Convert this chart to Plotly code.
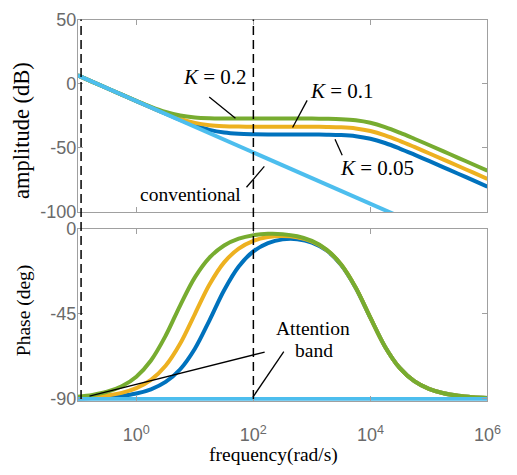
import plotly.graph_objects as go

# ---------------- data ----------------
log_freq = [-1, -0.75, -0.5, -0.25, 0, 0.25, 0.5, 0.75, 1.0, 1.25, 1.5, 1.75, 2.0,
            2.25, 2.5, 2.75, 3.0, 3.25, 3.5, 3.75, 4.0, 4.25, 4.5, 4.75, 5.0,
            5.25, 5.5, 5.75, 6.0]
freq = [10 ** v for v in log_freq]

mag_k02 = [6.50, 1.51, -3.48, -8.44, -13.31, -17.94, -21.93, -24.73, -26.20, -26.80,
           -27.00, -27.07, -27.09, -27.10, -27.11, -27.12, -27.15, -27.26, -27.57,
           -28.45, -30.42, -33.76, -38.06, -42.82, -47.74, -52.71, -57.70, -62.70, -67.70]
mag_k01 = [6.50, 1.50, -3.50, -8.49, -13.46, -18.37, -23.09, -27.31, -30.49, -32.31,
           -33.09, -33.37, -33.46, -33.49, -33.50, -33.52, -33.55, -33.66, -33.97,
           -34.85, -36.82, -40.16, -44.46, -49.22, -54.14, -59.11, -64.10, -69.10, -74.10]
mag_k005 = [6.50, 1.50, -3.50, -8.50, -13.49, -18.47, -23.39, -28.17, -32.53, -35.96,
            -38.05, -38.99, -39.33, -39.45, -39.49, -39.51, -39.55, -39.66, -39.97,
            -40.85, -42.82, -46.16, -50.46, -55.22, -60.14, -65.11, -70.10, -75.10, -80.10]

ph_k02 = [-88.80, -87.87, -86.22, -83.30, -78.21, -69.63, -56.57, -40.44, -25.64, -15.17,
          -8.80, -5.21, -3.35, -2.63, -2.81, -3.94, -6.39, -10.94, -18.81, -31.12,
          -47.01, -62.33, -73.58, -80.60, -84.67, -87.00, -88.31, -89.05, -89.47]
ph_k01 = [-89.43, -88.98, -88.19, -86.78, -84.30, -79.93, -72.47, -60.69, -45.06, -29.46,
          -17.74, -10.43, -6.32, -4.31, -3.75, -4.47, -6.69, -11.11, -18.90, -31.17,
          -47.04, -62.34, -73.58, -80.60, -84.67, -87.00, -88.31, -89.05, -89.47]
ph_k005 = [-89.71, -89.49, -89.09, -88.39, -87.14, -84.92, -81.01, -74.29, -63.44, -48.40,
           -32.44, -19.88, -11.89, -7.49, -5.55, -5.48, -7.26, -11.43, -19.08, -31.27,
           -47.09, -62.37, -73.60, -80.60, -84.67, -87.00, -88.31, -89.05, -89.47]

conv_freq = [0.1, 1e6]
conv_mag = [6.5, -133.5]
conv_ph = [-90, -90]

band_freqs = [0.1136, 100]          # dashed "attention band" limits
x_tick_vals = [1, 100, 1e4, 1e6]
x_tick_text = ["10<sup>0</sup>", "10<sup>2</sup>", "10<sup>4</sup>", "10<sup>6</sup>"]
mag_ticks = [-100, -50, 0, 50]
mag_tick_text = ["-100", "-50", "0", "50"]
ph_ticks = [-90, -45, 0]
ph_tick_text = ["-90", "-45", "0"]

# ---------------- styling ----------------
C_BLUE, C_YEL, C_GRN, C_LB = "#0072BD", "#EDB120", "#77AC30", "#4DBEEE"
AX_COL = "#a0a0a0"
TICK_FONT = dict(family="Liberation Sans, Arial", size=18, color="#6a6a6a")
SERIF = "Liberation Serif, Times New Roman"
W, H = 517, 475

def px(x):
    return x / W

def py(y):
    return 1 - y / H

fig = go.Figure()
series = [(mag_k005, ph_k005, C_BLUE), (mag_k01, ph_k01, C_YEL), (mag_k02, ph_k02, C_GRN)]
for mag, ph, col in series:
    fig.add_trace(go.Scatter(x=freq, y=mag, mode="lines", line=dict(color=col, width=4, shape="spline"),
                             xaxis="x", yaxis="y", showlegend=False))
    fig.add_trace(go.Scatter(x=freq, y=ph, mode="lines", line=dict(color=col, width=4, shape="spline"),
                             xaxis="x2", yaxis="y2", showlegend=False))
fig.add_trace(go.Scatter(x=conv_freq, y=conv_mag, mode="lines", line=dict(color=C_LB, width=4),
                         xaxis="x", yaxis="y", showlegend=False))
fig.add_trace(go.Scatter(x=conv_freq, y=conv_ph, mode="lines", line=dict(color=C_LB, width=4),
                         xaxis="x2", yaxis="y2", showlegend=False, cliponaxis=False))

xdom = [80 / W, 501 / W]
top_dom = [py(211), py(10)]
bot_dom = [py(407.8), py(228.5)]

common_x = dict(type="log", range=[-1, 6], tickvals=x_tick_vals, ticks="inside", ticklen=5,
                showline=True, mirror="ticks", linecolor=AX_COL, tickcolor=AX_COL, linewidth=1,
                showgrid=False, zeroline=False, domain=xdom)
common_y = dict(ticks="inside", ticklen=5, showline=True, mirror="ticks", linecolor=AX_COL,
                tickcolor=AX_COL, linewidth=1, showgrid=False, zeroline=False, tickfont=TICK_FONT,
                ticklabelstandoff=-3)

fig.update_layout(
    width=W, height=H, margin=dict(l=0, r=0, t=0, b=0),
    paper_bgcolor="white", plot_bgcolor="white", showlegend=False,
    xaxis=dict(**common_x, anchor="y", showticklabels=False),
    yaxis=dict(**common_y, domain=top_dom, range=[-100, 50], tickvals=mag_ticks,
               ticktext=mag_tick_text, anchor="x"),
    xaxis2=dict(**common_x, anchor="y2", ticktext=x_tick_text, tickfont=TICK_FONT,
                ticklabelstandoff=18),
    yaxis2=dict(**common_y, domain=bot_dom, range=[-90.9, 0], tickvals=ph_ticks,
                ticktext=ph_tick_text, anchor="x2"),
)

shapes = []
for f in band_freqs:
    shapes.append(dict(type="line", xref="x", yref="paper", x0=f, x1=f, y0=py(406), y1=py(10),
                       line=dict(color="black", width=1.5, dash="9px,5px")))
# leader lines for labels
leaders = [
    ("x", "y", 17.6, -10.4, 49.4, -26.9),
    ("x", "y", 830, -12.9, 468, -34.1),
    ("x", "y", 2483, -43.3, 3296, -55.7),
    ("x", "y", 76.2, -80.6, 154, -64.4),
    ("x2", "y2", 0.158, -88.5, 156, -65.2),
    ("x2", "y2", 331, -65.0, 98.4, -89.0),
]
for xr, yr, x0, y0, x1, y1 in leaders:
    shapes.append(dict(type="line", xref=xr, yref=yr, x0=x0, y0=y0, x1=x1, y1=y1,
                       line=dict(color="black", width=1.3)))
fig.update_layout(shapes=shapes)

def label(text, x, y, size=19, angle=0):
    return dict(text=text, x=px(x), y=py(y), xref="paper", yref="paper", showarrow=False,
                xanchor="center", yanchor="middle", textangle=angle,
                font=dict(family=SERIF, size=size, color="black"))

fig.update_layout(annotations=[
    label("<i>K</i> = 0.2", 220.5, 70, 21),
    label("<i>K</i> = 0.1", 352, 85, 21),
    label("<i>K</i> = 0.05", 388, 165, 21),
    label("conventional", 195.5, 193, 19.5),
    label("Attention", 322, 333, 19.5),
    label("band", 322.7, 355, 19.5),
    label("amplitude (dB)", 22, 126, 22.5, -90),
    label("Phase (deg)", 24, 313, 19.5, -90),
    label("frequency(rad/s)", 281, 465, 19.5),
])

fig.write_html("out.html")
